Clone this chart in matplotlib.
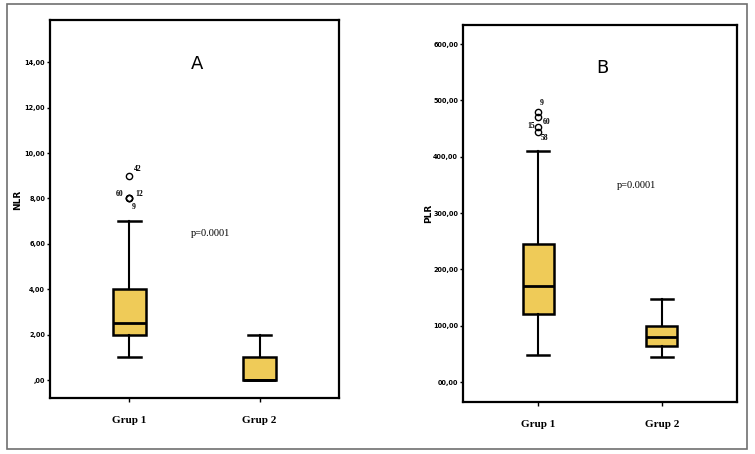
import matplotlib
matplotlib.use("Agg")
import matplotlib.pyplot as plt
from matplotlib.patches import Rectangle

# ---------------- data ----------------
groups = ["Grup 1", "Grup 2"]

# NLR box summaries (whislo, q1, med, q3, whishi)
nlr_whislo = [1.0, 0.0]
nlr_q1 = [2.0, 0.0]
nlr_med = [2.5, 0.0]
nlr_q3 = [4.0, 1.0]
nlr_whishi = [7.0, 2.0]
nlr_out_vals = [9.0, 8.0, 8.0, 8.0]
nlr_out_ids = ["42", "60", "12", "9"]

# PLR box summaries
plr_whislo = [48.0, 44.0]
plr_q1 = [121.0, 64.0]
plr_med = [170.0, 80.0]
plr_q3 = [245.0, 100.0]
plr_whishi = [410.0, 147.0]
plr_out_vals = [480.0, 470.0, 453.0, 444.0]
plr_out_ids = ["9", "60", "15", "58"]

nlr_ticks = [0, 2, 4, 6, 8, 10, 12, 14]
nlr_ticklabels = [",00", "2,00", "4,00", "6,00", "8,00", "10,00", "12,00", "14,00"]
plr_ticks = [0, 100, 200, 300, 400, 500, 600]
plr_ticklabels = ["00,00", "100,00", "200,00", "300,00", "400,00", "500,00", "600,00"]

p_text = "p=0.0001"

# ---------------- figure ----------------
W, H = 755, 454
fig = plt.figure(figsize=(W / 100, H / 100), dpi=100)
fig.patch.set_facecolor("white")

# outer frame
fig.patches.append(Rectangle((7 / W, 1 - 449 / H), 740 / W, 445 / H,
                             transform=fig.transFigure, fill=False,
                             edgecolor="#707070", linewidth=1.2))

box_face = "#EFCB58"
label_font = "Liberation Serif"


def make_stats(lo, q1, med, q3, hi):
    return [dict(whislo=lo[i], q1=q1[i], med=med[i], q3=q3[i], whishi=hi[i], fliers=[])
            for i in range(len(lo))]


def draw_panel(rect, stats, out_vals, out_ids, out_offsets, ylim, ticks, ticklabels,
               ylabel, ylabel_xy, letter, letter_xy, p_xy, xlim):
    ax = fig.add_axes(rect)
    bp = ax.bxp(stats, positions=[1, 2], widths=0.25, patch_artist=True,
                showfliers=False,
                boxprops=dict(facecolor=box_face, edgecolor="black", linewidth=1.8),
                medianprops=dict(color="black", linewidth=2.0),
                whiskerprops=dict(color="black", linewidth=1.5),
                capprops=dict(color="black", linewidth=1.8))
    for c in bp["caps"]:
        x = c.get_xdata()
        m = (x[0] + x[1]) / 2
        c.set_xdata([m - 0.09, m + 0.09])
    ax.plot([1] * len(out_vals), out_vals, linestyle="none", marker="o",
            markersize=4.5, markerfacecolor="none", markeredgecolor="black",
            markeredgewidth=1.0)
    for v, lab, off in zip(out_vals, out_ids, out_offsets):
        ax.annotate(lab, xy=(1, v), xytext=off, textcoords="offset points",
                    ha="center", va="center", fontsize=5.5, fontweight="bold",
                    family=label_font)
    ax.set_xlim(*xlim)
    ax.set_ylim(*ylim)
    ax.set_yticks(ticks)
    ax.set_yticklabels(ticklabels, fontsize=5.2, fontweight="bold",
                       fontstretch="condensed")
    ax.set_xticks([1, 2])
    ax.set_xticklabels(groups, fontsize=8, fontweight="bold", family=label_font)
    ax.tick_params(axis="y", length=2.5, width=1.0, pad=1)
    ax.tick_params(axis="x", length=3, width=1.0, pad=10)
    for s in ax.spines.values():
        s.set_linewidth(1.6)
    ax.set_ylabel(ylabel, fontsize=6.5, fontweight="bold")
    ax.yaxis.set_label_coords(*ylabel_xy)
    ax.text(*letter_xy, letter, transform=ax.transAxes, fontsize=13,
            ha="center", va="center")
    ax.text(*p_xy, p_text, transform=ax.transAxes, fontsize=7.5,
            ha="center", va="center", family=label_font)
    return ax


def fig_rect(x0, y0, x1, y1):
    return [x0 / W, 1 - y1 / H, (x1 - x0) / W, (y1 - y0) / H]


# left panel A
axA = draw_panel(fig_rect(50, 20, 339, 398),
                 make_stats(nlr_whislo, nlr_q1, nlr_med, nlr_q3, nlr_whishi),
                 nlr_out_vals, nlr_out_ids,
                 [(6, 5), (-7, 3), (7, 3), (3, -6)],
                 (-0.79, 15.86), nlr_ticks, nlr_ticklabels, "NLR",
                 ((22 - 50) / 289, 1 - (200 - 20) / 378), "A",
                 ((197 - 50) / 289, 1 - (64 - 20) / 378),
                 ((210 - 50) / 289, 1 - (233 - 20) / 378),
                 (0.39, 2.61))

# right panel B
axB = draw_panel(fig_rect(463, 25, 737, 402),
                 make_stats(plr_whislo, plr_q1, plr_med, plr_q3, plr_whishi),
                 plr_out_vals, plr_out_ids,
                 [(3, 6), (6, -3), (-5, 1), (5, -4)],
                 (-35.5, 634), plr_ticks, plr_ticklabels, "PLR",
                 ((433 - 463) / 274, 1 - (213 - 25) / 377), "B",
                 ((602 - 463) / 274, 1 - (68 - 25) / 377),
                 ((636 - 463) / 274, 1 - (185 - 25) / 377),
                 (0.395, 2.605))

fig.savefig("out.png", dpi=100)
